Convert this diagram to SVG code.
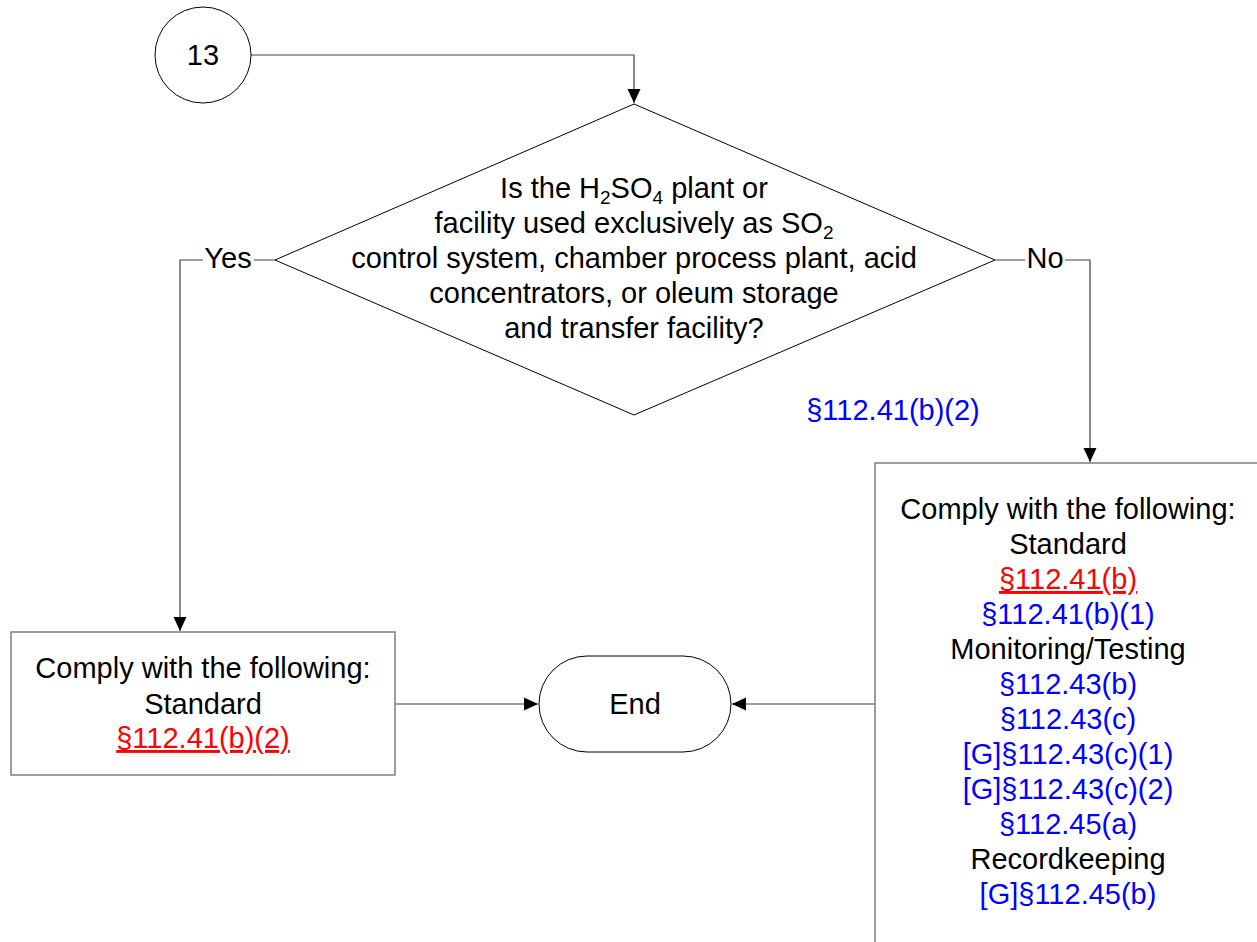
<svg xmlns="http://www.w3.org/2000/svg" width="1257" height="942" viewBox="0 0 1257 942">
<style>
text{font-family:"Liberation Sans",Arial,sans-serif;font-size:29px;fill:#000;text-anchor:middle}
.blue{fill:#0000ff}
.red{fill:#ff0000;text-decoration:underline}
.sub{font-size:19px}
.conn{fill:none;stroke:#404040;stroke-width:1.2}
.box{fill:#fff;stroke:#7f7f7f;stroke-width:1.5}
.shape{fill:#fff;stroke:#000;stroke-width:1}
</style>
<defs>
<marker id="arr" viewBox="0 0 14 14" refX="14" refY="7" markerWidth="14" markerHeight="14" markerUnits="userSpaceOnUse" orient="auto">
<path d="M0,0.5 L14,7 L0,13.5 z" fill="#000"/>
</marker>
</defs>
<rect width="1257" height="942" fill="#fff"/>
<g id="connectors">
<path class="conn" d="M251,55 H634 V103" marker-end="url(#arr)"/>
<path class="conn" d="M275,260 H180 V631" marker-end="url(#arr)"/>
<path class="conn" d="M995,260 H1090 V462" marker-end="url(#arr)"/>
<path class="conn" d="M395,704 H538" marker-end="url(#arr)"/>
<path class="conn" d="M875,704 H732" marker-end="url(#arr)"/>
<rect x="203" y="246" width="51" height="28" fill="#fff"/>
<text x="228" y="268">Yes</text>
<rect x="1025" y="246" width="40" height="28" fill="#fff"/>
<text x="1045" y="268">No</text>
<text class="blue" x="893" y="420">§112.41(b)(2)</text>
</g>
<g id="start13">
<circle class="shape" cx="203" cy="55" r="48"/>
<text x="203" y="65">13</text>
</g>
<g id="decision">
<polygon class="shape" points="634,104 995,260 634,415 275,260"/>
<text x="634" y="198">Is the H<tspan class="sub" dy="6">2</tspan><tspan dy="-6">SO</tspan><tspan class="sub" dy="6">4</tspan><tspan dy="-6"> plant or</tspan></text>
<text x="634" y="233">facility used exclusively as SO<tspan class="sub" dy="6">2</tspan></text>
<text x="634" y="268">control system, chamber process plant, acid</text>
<text x="634" y="303">concentrators, or oleum storage</text>
<text x="634" y="338">and transfer facility?</text>
</g>
<g id="yesBox">
<rect class="box" x="11" y="632" width="384" height="143"/>
<text x="203" y="678">Comply with the following:</text>
<text x="203" y="714">Standard</text>
<text class="red" x="203" y="748">§112.41(b)(2)</text>
</g>
<g id="end">
<rect class="shape" x="539" y="656" width="192" height="96" rx="48" ry="48"/>
<text x="635" y="714">End</text>
</g>
<g id="noBox">
<rect class="box" x="875" y="463" width="390" height="500"/>
<text x="1068" y="519">Comply with the following:</text>
<text x="1068" y="554">Standard</text>
<text class="red" x="1068" y="589">§112.41(b)</text>
<text class="blue" x="1068" y="624">§112.41(b)(1)</text>
<text x="1068" y="659">Monitoring/Testing</text>
<text class="blue" x="1068" y="694">§112.43(b)</text>
<text class="blue" x="1068" y="729">§112.43(c)</text>
<text class="blue" x="1068" y="764">[G]§112.43(c)(1)</text>
<text class="blue" x="1068" y="799">[G]§112.43(c)(2)</text>
<text class="blue" x="1068" y="834">§112.45(a)</text>
<text x="1068" y="869">Recordkeeping</text>
<text class="blue" x="1068" y="904">[G]§112.45(b)</text>
</g>
</svg>
